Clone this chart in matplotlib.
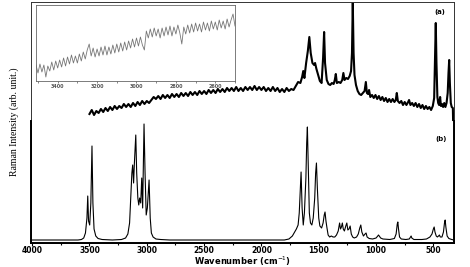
import numpy as np
import matplotlib
matplotlib.use('Agg')
import matplotlib.pyplot as plt

# (a) experimental Raman spectrum, wavenumber / intensity (arb.)
a_wn = [3500, 3480, 3460, 3440, 3420, 3400, 3380, 3360, 3340, 3320, 3300, 3280, 3260, 3240, 3220,
        3200, 3180, 3160, 3140, 3120, 3100, 3080, 3060, 3040, 3020, 3000, 2980, 2960, 2940, 2920,
        2900, 2880, 2860, 2840, 2820, 2800, 2780, 2760, 2740, 2720, 2700, 2680, 2660, 2640, 2620,
        2600, 2580, 2560, 2540, 2520, 2500, 2480, 2460, 2440, 2420, 2400, 2380, 2360, 2340, 2320,
        2300, 2280, 2260, 2240, 2220, 2200, 2180, 2160, 2140, 2120, 2100, 2080, 2060, 2040, 2020,
        2000, 1980, 1960, 1940, 1920, 1900, 1880, 1860, 1840, 1820, 1800, 1780, 1760, 1740, 1720,
        1700, 1680, 1660, 1645, 1635, 1625, 1610, 1595, 1582, 1570, 1555, 1540, 1532, 1520, 1505,
        1490, 1475, 1462, 1453, 1445, 1430, 1415, 1400, 1385, 1370, 1360, 1351, 1342, 1325, 1310,
        1295, 1285, 1275, 1260, 1245, 1230, 1218, 1210, 1203, 1196, 1188, 1175, 1160, 1145, 1130,
        1115, 1100, 1089, 1080, 1070, 1061, 1050, 1035, 1020, 1005, 990, 975, 960, 945, 930,
        915, 900, 885, 870, 855, 840, 828, 819, 810, 795, 780, 765, 750, 735, 720,
        712, 700, 685, 670, 655, 640, 625, 610, 595, 580, 565, 550, 535, 520, 505,
        493, 485, 479, 473, 465, 458, 450, 441, 434, 425, 415, 405, 395, 385, 375,
        368, 362, 356, 348, 340, 330, 328]
a_int = [129, 133, 128, 132, 130, 134, 131, 135, 132, 136, 133, 137, 134, 137, 135,
         139, 136, 139, 136, 140, 137, 141, 138, 142, 139, 142, 140, 143, 146, 144,
         147, 144, 148, 145, 148, 145, 149, 146, 149, 146, 150, 147, 150, 147, 151,
         148, 151, 148, 152, 149, 152, 149, 153, 150, 153, 150, 154, 151, 154, 151,
         155, 152, 155, 152, 156, 152, 155, 152, 156, 153, 156, 153, 157, 153, 156,
         153, 156, 152, 155, 152, 156, 152, 155, 151, 154, 151, 155, 152, 154, 153,
         157, 161, 160, 166, 172, 165, 180, 192, 206, 190, 180, 178, 180, 174, 168,
         162, 160, 185, 211, 180, 163, 159, 158, 160, 159, 163, 169, 160, 161, 160,
         163, 170, 163, 165, 164, 167, 172, 190, 241, 190, 168, 158, 152, 149, 148,
         150, 152, 161, 150, 149, 153, 146, 148, 145, 148, 144, 147, 143, 146, 142,
         145, 141, 144, 141, 144, 141, 143, 150, 142, 140, 142, 138, 141, 138, 141,
         143, 138, 140, 137, 140, 136, 139, 135, 138, 134, 137, 134, 136, 133, 137,
         145, 190, 220, 180, 146, 140, 138, 146, 137, 139, 136, 140, 136, 140, 150,
         170, 183, 160, 140, 136, 135, 123]

# inset: zoom of (a) in the 3500-2500 region
ins_wn = np.arange(3510, 2499, -10)
ins_int = [16, 8, 17, 9, 16, 4, 15, 10, 19, 11,
           20, 13, 21, 14, 23, 15, 24, 17, 26, 18,
           25, 18, 27, 20, 29, 22, 31, 37, 25, 33,
           24, 32, 25, 34, 26, 35, 26, 34, 27, 36,
           28, 37, 29, 38, 30, 39, 31, 40, 33, 42,
           34, 43, 35, 44, 36, 31, 50, 43, 52, 44,
           53, 45, 52, 43, 53, 45, 54, 46, 55, 45,
           54, 47, 56, 48, 37, 54, 47, 56, 48, 57,
           49, 58, 50, 57, 49, 59, 51, 58, 50, 60,
           52, 59, 51, 61, 53, 60, 52, 62, 54, 61,
           67, 55]

# (b) calculated Raman spectrum
b_wn = [4010, 3600, 3570, 3550, 3535, 3522, 3515, 3508, 3498, 3488, 3478, 3470, 3460, 3445, 3425,
        3390, 3300, 3220, 3185, 3165, 3150, 3140, 3130, 3123, 3115, 3108, 3096, 3088, 3078, 3070,
        3062, 3053, 3044, 3036, 3030, 3024, 3015, 3005, 2995, 2980, 2970, 2960, 2945, 2920, 2880,
        2800, 1800, 1760, 1730, 1710, 1695, 1680, 1670, 1662, 1654, 1645, 1635, 1625, 1612, 1605,
        1599, 1592, 1582, 1572, 1560, 1548, 1535, 1527, 1520, 1512, 1500, 1490, 1475, 1462, 1452,
        1445, 1437, 1428, 1418, 1405, 1390, 1375, 1360, 1345, 1330, 1318, 1310, 1302, 1294, 1286,
        1276, 1264, 1255, 1246, 1236, 1226, 1216, 1204, 1190, 1170, 1155, 1142, 1133, 1124, 1110,
        1096, 1087, 1078, 1060, 1030, 1000, 985, 979, 972, 960, 940, 880, 840, 825, 815,
        810, 804, 795, 780, 740, 710, 700, 694, 688, 670, 600, 560, 530, 512, 500,
        493, 486, 475, 465, 455, 447, 440, 425, 412, 403, 397, 391, 380, 365, 340,
        320]
b_int = [3, 3, 3.5, 5, 10, 25, 47, 22, 18, 40, 97, 40, 14, 7, 4.5,
         3.5, 3, 3.5, 5, 9, 20, 45, 70, 78, 60, 80, 108, 70, 45, 38,
         45, 40, 65, 35, 75, 119, 70, 28, 35, 63, 25, 10, 6, 4, 3.5,
         3, 3, 4, 7, 11, 14, 18, 30, 50, 71, 35, 18, 30, 65, 100,
         116, 80, 30, 20, 18, 25, 45, 70, 80, 55, 25, 17, 15, 20, 28,
         31, 22, 15, 8, 6, 7, 6, 6, 8, 12, 20, 14, 16, 20, 14,
         12, 17, 20, 13, 14, 17, 9, 6, 5, 6, 9, 15, 18, 11, 7,
         9, 10, 6, 4.5, 4, 5, 7, 8, 7, 5, 4, 3.5, 4.5, 9, 19,
         21, 14, 6, 4, 3.5, 4, 6, 7, 5, 3.5, 3.5, 4, 6, 9, 14,
         16, 11, 7, 6, 7, 8, 6, 6, 11, 20, 23, 16, 7, 4.5, 3.5,
         3]

xticks = [4000, 3500, 3000, 2500, 2000, 1500, 1000, 500]
ins_ticks = [3400, 3200, 3000, 2800, 2600]

fig = plt.figure(figsize=(4.7, 2.67), dpi=100)

L, B, W = 31 / 470, 24 / 267, 423 / 470
ax_a = fig.add_axes([L, B, W, 241 / 267])
ax_b = fig.add_axes([L, B, W, 122 / 267])
for ax in (ax_a, ax_b):
    ax.set_xlim(4010, 320)
    ax.patch.set_alpha(0)

# upper (a) panel: thin full frame
ax_a.set_ylim(0, 241)
for s in ax_a.spines.values():
    s.set_linewidth(0.7)
    s.set_color('#333333')
ax_a.set_xticks([])
ax_a.set_yticks([])
ax_a.plot(a_wn, a_int, color='black', lw=1.5)
ax_a.text(440, 231, '(a)', fontsize=5, fontweight='bold', ha='center', va='center')

# lower (b) panel
ax_b.set_ylim(0, 122)
ax_b.spines['top'].set_visible(False)
for s in ('left', 'right', 'bottom'):
    ax_b.spines[s].set_linewidth(1.4)
ax_b.plot(b_wn, b_int, color='black', lw=0.8, clip_on=False)
ax_b.set_yticks([])
ax_b.set_xticks(xticks)
ax_b.set_xticks(np.arange(3750, 300, -500), minor=True)
ax_b.tick_params(axis='x', which='major', direction='out', length=2, width=0.8, pad=0.5)
ax_b.tick_params(axis='x', which='minor', direction='out', length=1.5, width=0.8)
for lab in ax_b.get_xticklabels():
    lab.set_fontsize(5.5)
    lab.set_fontweight('bold')
ax_b.set_xlabel('Wavenumber (cm$^{-1}$)', fontsize=6, fontweight='bold')
ax_b.xaxis.set_label_coords(0.5, -0.095)
ax_b.text(436, 104, '(b)', fontsize=5, fontweight='bold', ha='center', va='center')

fig.text(0.03, 0.545, 'Raman Intensity (arb. unit.)', rotation=90, family='Liberation Serif',
         fontsize=7, ha='center', va='center')

# inset
ax_in = fig.add_axes([36 / 470, (267 - 81) / 267, 199 / 470, 76 / 267])
ax_in.plot(ins_wn, ins_int, color='#777777', lw=0.6)
ax_in.set_xlim(3510, 2500)
ax_in.set_ylim(0, 76)
ax_in.set_yticks([])
ax_in.set_xticks(ins_ticks)
ax_in.set_xticks(np.arange(3500, 2499, -100), minor=True)
ax_in.tick_params(axis='x', which='both', direction='out', length=1.2, width=0.5, pad=1,
                  labelsize=3.5, colors='#555555')
for lab in ax_in.get_xticklabels():
    lab.set_fontweight('bold')
for s in ax_in.spines.values():
    s.set_linewidth(0.6)
    s.set_color('#666666')

fig.savefig('out.png', dpi=100)
